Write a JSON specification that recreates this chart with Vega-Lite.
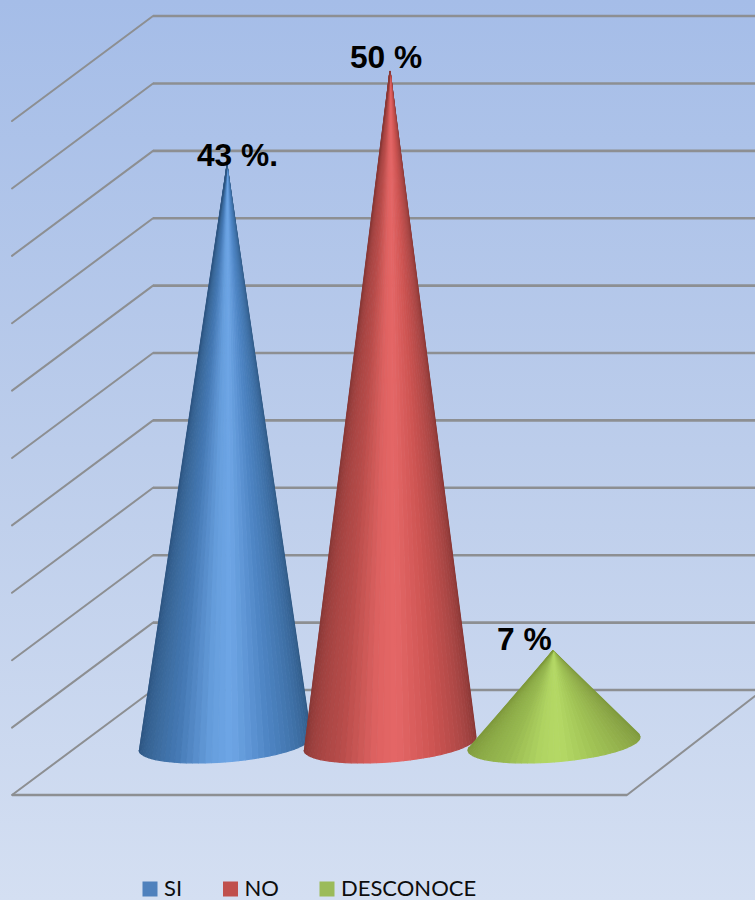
{
"$schema":"https://vega.github.io/schema/vega-lite/v6.json",
"width":755,"height":900,
"autosize":{"type":"none"},
"padding":0,
"background":"#d3dff2",
"config":{"view":{"stroke":null},"font":"Lato"},
"datasets":{
"resultados":[
{"categoria":"SI","valor":43,"vertice":227,"etiqueta":"43 %.","xEtiqueta":197,"yEtiqueta":42.95},
{"categoria":"NO","valor":50,"vertice":390,"etiqueta":"50 %","xEtiqueta":350,"yEtiqueta":50.22},
{"categoria":"DESCONOCE","valor":7,"vertice":553,"etiqueta":"7 %","xEtiqueta":497,"yEtiqueta":7.04}
],
"pared":[
{"xa":153,"ya":54.08,"xb":755,"yb":54.08},{"xa":153,"ya":49.08,"xb":755,"yb":49.08},{"xa":153,"ya":44.08,"xb":755,"yb":44.08},
{"xa":153,"ya":39.08,"xb":755,"yb":39.08},{"xa":153,"ya":34.08,"xb":755,"yb":34.08},{"xa":153,"ya":29.08,"xb":755,"yb":29.08},
{"xa":153,"ya":24.08,"xb":755,"yb":24.08},{"xa":153,"ya":19.08,"xb":755,"yb":19.08},{"xa":153,"ya":14.08,"xb":755,"yb":14.08},
{"xa":153,"ya":9.08,"xb":755,"yb":9.08},{"xa":153,"ya":4.08,"xb":755,"yb":4.08},{"xa":12,"ya":-3.71,"xb":627,"yb":-3.71}
],
"lateral":[
{"xa":153,"ya":54.08,"xb":12,"yb":46.29},{"xa":153,"ya":49.08,"xb":12,"yb":41.29},{"xa":153,"ya":44.08,"xb":12,"yb":36.29},
{"xa":153,"ya":39.08,"xb":12,"yb":31.29},{"xa":153,"ya":34.08,"xb":12,"yb":26.29},{"xa":153,"ya":29.08,"xb":12,"yb":21.29},
{"xa":153,"ya":24.08,"xb":12,"yb":16.29},{"xa":153,"ya":19.08,"xb":12,"yb":11.29},{"xa":153,"ya":14.08,"xb":12,"yb":6.29},
{"xa":153,"ya":9.08,"xb":12,"yb":1.29},{"xa":153,"ya":4.08,"xb":12,"yb":-3.71},{"xa":627,"ya":-3.71,"xb":755,"yb":3.63}
],
"conoSI":[
{"t":2.25,"x":[227,311,310.7],"y":[43,0.593,0.485]},{"t":6.75,"x":[227,310.7,310],"y":[43,0.485,0.374]},
{"t":11.25,"x":[227,310,308.6],"y":[43,0.374,0.262]},{"t":15.75,"x":[227,308.6,306.8],"y":[43,0.262,0.147]},
{"t":20.25,"x":[227,306.8,304.5],"y":[43,0.147,0.033]},{"t":24.75,"x":[227,304.5,301.6],"y":[43,0.033,-0.08]},
{"t":29.25,"x":[227,301.6,298.3],"y":[43,-0.08,-0.192]},{"t":33.75,"x":[227,298.3,294.6],"y":[43,-0.192,-0.302]},
{"t":38.25,"x":[227,294.6,290.4],"y":[43,-0.302,-0.409]},{"t":42.75,"x":[227,290.4,285.8],"y":[43,-0.409,-0.513]},
{"t":47.25,"x":[227,285.8,280.8],"y":[43,-0.513,-0.613]},{"t":51.75,"x":[227,280.8,275.6],"y":[43,-0.613,-0.71]},
{"t":56.25,"x":[227,275.6,270],"y":[43,-0.71,-0.801]},{"t":60.75,"x":[227,270,264],"y":[43,-0.801,-0.886]},
{"t":65.25,"x":[227,264,257.9],"y":[43,-0.886,-0.965]},{"t":69.75,"x":[227,257.9,251.6],"y":[43,-0.965,-1.038]},
{"t":74.25,"x":[227,251.6,245.1],"y":[43,-1.038,-1.104]},{"t":78.75,"x":[227,245.1,238.4],"y":[43,-1.104,-1.163]},
{"t":83.25,"x":[227,238.4,231.7],"y":[43,-1.163,-1.212]},{"t":87.75,"x":[227,231.7,225],"y":[43,-1.212,-1.254]},
{"t":92.25,"x":[227,225,218.3],"y":[43,-1.254,-1.288]},{"t":96.75,"x":[227,218.3,211.6],"y":[43,-1.288,-1.313]},
{"t":101.25,"x":[227,211.6,204.9],"y":[43,-1.313,-1.328]},{"t":105.75,"x":[227,204.9,198.4],"y":[43,-1.328,-1.336]},
{"t":110.25,"x":[227,198.4,192.1],"y":[43,-1.336,-1.335]},{"t":114.75,"x":[227,192.1,186],"y":[43,-1.335,-1.324]},
{"t":119.25,"x":[227,186,180],"y":[43,-1.324,-1.305]},{"t":123.75,"x":[227,180,174.4],"y":[43,-1.305,-1.276]},
{"t":128.25,"x":[227,174.4,169.2],"y":[43,-1.276,-1.239]},{"t":132.75,"x":[227,169.2,164.2],"y":[43,-1.239,-1.195]},
{"t":137.25,"x":[227,164.2,159.6],"y":[43,-1.195,-1.141]},{"t":141.75,"x":[227,159.6,155.4],"y":[43,-1.141,-1.082]},
{"t":146.25,"x":[227,155.4,151.7],"y":[43,-1.082,-1.014]},{"t":150.75,"x":[227,151.7,148.4],"y":[43,-1.014,-0.938]},
{"t":155.25,"x":[227,148.4,145.5],"y":[43,-0.938,-0.857]},{"t":159.75,"x":[227,145.5,143.2],"y":[43,-0.857,-0.769]},
{"t":164.25,"x":[227,143.2,141.4],"y":[43,-0.769,-0.676]},{"t":168.75,"x":[227,141.4,140],"y":[43,-0.676,-0.578]},
{"t":173.25,"x":[227,140,139.3],"y":[43,-0.578,-0.477]},{"t":177.75,"x":[227,139.3,139],"y":[43,-0.477,-0.371]}
],
"conoNO":[
{"t":2.25,"x":[390,476,475.7],"y":[50,0.593,0.485]},{"t":6.75,"x":[390,475.7,475],"y":[50,0.485,0.374]},
{"t":11.25,"x":[390,475,473.6],"y":[50,0.374,0.262]},{"t":15.75,"x":[390,473.6,471.8],"y":[50,0.262,0.147]},
{"t":20.25,"x":[390,471.8,469.5],"y":[50,0.147,0.033]},{"t":24.75,"x":[390,469.5,466.6],"y":[50,0.033,-0.08]},
{"t":29.25,"x":[390,466.6,463.3],"y":[50,-0.08,-0.192]},{"t":33.75,"x":[390,463.3,459.6],"y":[50,-0.192,-0.302]},
{"t":38.25,"x":[390,459.6,455.4],"y":[50,-0.302,-0.409]},{"t":42.75,"x":[390,455.4,450.8],"y":[50,-0.409,-0.513]},
{"t":47.25,"x":[390,450.8,445.8],"y":[50,-0.513,-0.613]},{"t":51.75,"x":[390,445.8,440.6],"y":[50,-0.613,-0.71]},
{"t":56.25,"x":[390,440.6,435],"y":[50,-0.71,-0.801]},{"t":60.75,"x":[390,435,429],"y":[50,-0.801,-0.886]},
{"t":65.25,"x":[390,429,422.9],"y":[50,-0.886,-0.965]},{"t":69.75,"x":[390,422.9,416.6],"y":[50,-0.965,-1.038]},
{"t":74.25,"x":[390,416.6,410.1],"y":[50,-1.038,-1.104]},{"t":78.75,"x":[390,410.1,403.4],"y":[50,-1.104,-1.163]},
{"t":83.25,"x":[390,403.4,396.7],"y":[50,-1.163,-1.212]},{"t":87.75,"x":[390,396.7,390],"y":[50,-1.212,-1.254]},
{"t":92.25,"x":[390,390,383.3],"y":[50,-1.254,-1.288]},{"t":96.75,"x":[390,383.3,376.6],"y":[50,-1.288,-1.313]},
{"t":101.25,"x":[390,376.6,369.9],"y":[50,-1.313,-1.328]},{"t":105.75,"x":[390,369.9,363.4],"y":[50,-1.328,-1.336]},
{"t":110.25,"x":[390,363.4,357.1],"y":[50,-1.336,-1.335]},{"t":114.75,"x":[390,357.1,351],"y":[50,-1.335,-1.324]},
{"t":119.25,"x":[390,351,345],"y":[50,-1.324,-1.305]},{"t":123.75,"x":[390,345,339.4],"y":[50,-1.305,-1.276]},
{"t":128.25,"x":[390,339.4,334.2],"y":[50,-1.276,-1.239]},{"t":132.75,"x":[390,334.2,329.2],"y":[50,-1.239,-1.195]},
{"t":137.25,"x":[390,329.2,324.6],"y":[50,-1.195,-1.141]},{"t":141.75,"x":[390,324.6,320.4],"y":[50,-1.141,-1.082]},
{"t":146.25,"x":[390,320.4,316.7],"y":[50,-1.082,-1.014]},{"t":150.75,"x":[390,316.7,313.4],"y":[50,-1.014,-0.938]},
{"t":155.25,"x":[390,313.4,310.5],"y":[50,-0.938,-0.857]},{"t":159.75,"x":[390,310.5,308.2],"y":[50,-0.857,-0.769]},
{"t":164.25,"x":[390,308.2,306.4],"y":[50,-0.769,-0.676]},{"t":168.75,"x":[390,306.4,305],"y":[50,-0.676,-0.578]},
{"t":173.25,"x":[390,305,304.3],"y":[50,-0.578,-0.477]},{"t":177.75,"x":[390,304.3,304],"y":[50,-0.477,-0.371]}
],
"conoDES":[
{"t":-2.25,"x":[553,639,640],"y":[7,0.8,0.593]},
{"t":2.25,"x":[553,640,639.7],"y":[7,0.593,0.485]},{"t":6.75,"x":[553,639.7,639],"y":[7,0.485,0.374]},
{"t":11.25,"x":[553,639,637.6],"y":[7,0.374,0.262]},{"t":15.75,"x":[553,637.6,635.8],"y":[7,0.262,0.147]},
{"t":20.25,"x":[553,635.8,633.5],"y":[7,0.147,0.033]},{"t":24.75,"x":[553,633.5,630.6],"y":[7,0.033,-0.08]},
{"t":29.25,"x":[553,630.6,627.3],"y":[7,-0.08,-0.192]},{"t":33.75,"x":[553,627.3,623.6],"y":[7,-0.192,-0.302]},
{"t":38.25,"x":[553,623.6,619.4],"y":[7,-0.302,-0.409]},{"t":42.75,"x":[553,619.4,614.8],"y":[7,-0.409,-0.513]},
{"t":47.25,"x":[553,614.8,609.8],"y":[7,-0.513,-0.613]},{"t":51.75,"x":[553,609.8,604.6],"y":[7,-0.613,-0.71]},
{"t":56.25,"x":[553,604.6,599],"y":[7,-0.71,-0.801]},{"t":60.75,"x":[553,599,593],"y":[7,-0.801,-0.886]},
{"t":65.25,"x":[553,593,586.9],"y":[7,-0.886,-0.965]},{"t":69.75,"x":[553,586.9,580.6],"y":[7,-0.965,-1.038]},
{"t":74.25,"x":[553,580.6,574.1],"y":[7,-1.038,-1.104]},{"t":78.75,"x":[553,574.1,567.4],"y":[7,-1.104,-1.163]},
{"t":83.25,"x":[553,567.4,560.7],"y":[7,-1.163,-1.212]},{"t":87.75,"x":[553,560.7,554],"y":[7,-1.212,-1.254]},
{"t":92.25,"x":[553,554,547.3],"y":[7,-1.254,-1.288]},{"t":96.75,"x":[553,547.3,540.6],"y":[7,-1.288,-1.313]},
{"t":101.25,"x":[553,540.6,533.9],"y":[7,-1.313,-1.328]},{"t":105.75,"x":[553,533.9,527.4],"y":[7,-1.328,-1.336]},
{"t":110.25,"x":[553,527.4,521.1],"y":[7,-1.336,-1.335]},{"t":114.75,"x":[553,521.1,515],"y":[7,-1.335,-1.324]},
{"t":119.25,"x":[553,515,509],"y":[7,-1.324,-1.305]},{"t":123.75,"x":[553,509,503.4],"y":[7,-1.305,-1.276]},
{"t":128.25,"x":[553,503.4,498.2],"y":[7,-1.276,-1.239]},{"t":132.75,"x":[553,498.2,493.2],"y":[7,-1.239,-1.195]},
{"t":137.25,"x":[553,493.2,488.6],"y":[7,-1.195,-1.141]},{"t":141.75,"x":[553,488.6,484.4],"y":[7,-1.141,-1.082]},
{"t":146.25,"x":[553,484.4,480.7],"y":[7,-1.082,-1.014]},{"t":150.75,"x":[553,480.7,477.4],"y":[7,-1.014,-0.938]},
{"t":155.25,"x":[553,477.4,474.5],"y":[7,-0.938,-0.857]},{"t":159.75,"x":[553,474.5,472.2],"y":[7,-0.857,-0.769]},
{"t":164.25,"x":[553,472.2,470.4],"y":[7,-0.769,-0.676]},{"t":168.75,"x":[553,470.4,469],"y":[7,-0.676,-0.578]},
{"t":173.25,"x":[553,469,468.3],"y":[7,-0.578,-0.477]},{"t":177.75,"x":[553,468.3,468],"y":[7,-0.477,-0.371]},
{"t":182.25,"x":[553,468,469],"y":[7,-0.371,-0.152]}
]
},
"layer":[
{"description":"Fondo degradado del grafico",
 "data":{"values":[{"x0":0,"x1":755,"y0":55.27,"y1":-11.5}]},
 "mark":{"type":"rect","fill":{"gradient":"linear","x1":0,"y1":0,"x2":0,"y2":1,"stops":[{"offset":0,"color":"#a5bde8"},{"offset":0.5,"color":"#bccdeb"},{"offset":1,"color":"#d4dff2"}]}},
 "encoding":{"x":{"field":"x0","type":"quantitative","scale":{"domain":[0,755],"nice":false,"zero":false},"axis":null},"x2":{"field":"x1"},
 "y":{"field":"y0","type":"quantitative","scale":{"domain":[-11.5,55.27],"nice":false,"zero":false},"axis":null},"y2":{"field":"y1"}}},
{"data":{"name":"pared"},
 "mark":{"type":"rule","stroke":"#8d8f92","strokeWidth":2.6},
 "encoding":{"x":{"field":"xa","type":"quantitative"},"x2":{"field":"xb"},"y":{"field":"ya","type":"quantitative"},"y2":{"field":"yb"}}},
{"data":{"name":"lateral"},
 "mark":{"type":"rule","stroke":"#8d8f92","strokeWidth":2,"strokeCap":"round"},
 "encoding":{"x":{"field":"xa","type":"quantitative"},"x2":{"field":"xb"},"y":{"field":"ya","type":"quantitative"},"y2":{"field":"yb"}}},
{"description":"Marcador de cada categoria, da origen a la leyenda",
 "data":{"name":"resultados"},
 "mark":{"type":"point","filled":true,"size":1,"opacity":1},
 "encoding":{"x":{"field":"vertice","type":"quantitative"},"y":{"field":"valor","type":"quantitative"},
 "fill":{"field":"categoria","type":"nominal","scale":{"domain":["SI","NO","DESCONOCE"],"range":["#4f81bd","#c0504d","#9bbb59"]},
 "legend":{"title":null,"orient":"none","legendX":139,"legendY":878,"direction":"horizontal","columns":3,"symbolType":"square","symbolSize":225,"symbolStrokeWidth":0,"symbolOpacity":1,"labelFont":"Lato","labelFontSize":22,"labelColor":"#0d0d0d","labelOffset":3,"columnPadding":36.5,"padding":0,"labelLimit":300}}}},
{"description":"Cono SI",
 "data":{"name":"conoSI"},"transform":[{"flatten":["x","y"]}],
 "mark":{"type":"line","filled":true,"strokeWidth":1.2,"strokeJoin":"round"},
 "encoding":{"x":{"field":"x","type":"quantitative"},"y":{"field":"y","type":"quantitative"},"detail":{"field":"t"},"order":{"value":null},
 "fill":{"field":"t","type":"quantitative","legend":null,"scale":{"domain":[0,30,60,86,100,125,150,180],"range":["#2f5782","#3d6ea3","#4e85c4","#6ea6e6","#669edd","#4478b3","#396799","#2c5480"]}},
 "stroke":{"field":"t","type":"quantitative","legend":null,"scale":{"domain":[0,30,60,86,100,125,150,180],"range":["#2f5782","#3d6ea3","#4e85c4","#6ea6e6","#669edd","#4478b3","#396799","#2c5480"]}}}},
{"description":"Cono NO",
 "data":{"name":"conoNO"},"transform":[{"flatten":["x","y"]}],
 "mark":{"type":"line","filled":true,"strokeWidth":1.2,"strokeJoin":"round"},
 "encoding":{"x":{"field":"x","type":"quantitative"},"y":{"field":"y","type":"quantitative"},"detail":{"field":"t"},"order":{"value":null},
 "fill":{"field":"t","type":"quantitative","legend":null,"scale":{"domain":[0,30,60,86,100,125,150,180],"range":["#843533","#a84644","#cd5452","#e56767","#de6261","#b84c4a","#a34341","#863735"]}},
 "stroke":{"field":"t","type":"quantitative","legend":null,"scale":{"domain":[0,30,60,86,100,125,150,180],"range":["#843533","#a84644","#cd5452","#e56767","#de6261","#b84c4a","#a34341","#863735"]}}}},
{"description":"Cono DESCONOCE",
 "data":{"name":"conoDES"},"transform":[{"flatten":["x","y"]}],
 "mark":{"type":"line","filled":true,"strokeWidth":1.2,"strokeJoin":"round"},
 "encoding":{"x":{"field":"x","type":"quantitative"},"y":{"field":"y","type":"quantitative"},"detail":{"field":"t"},"order":{"value":null},
 "fill":{"field":"t","type":"quantitative","legend":null,"scale":{"domain":[0,30,60,86,100,125,150,180],"range":["#7f9a3c","#8fab49","#a0c255","#b5d966","#b0d462","#98b950","#8cab47","#7f9a3c"]}},
 "stroke":{"field":"t","type":"quantitative","legend":null,"scale":{"domain":[0,30,60,86,100,125,150,180],"range":["#7f9a3c","#8fab49","#a0c255","#b5d966","#b0d462","#98b950","#8cab47","#7f9a3c"]}}}},
{"description":"Porcentajes sobre cada cono",
 "data":{"name":"resultados"},
 "mark":{"type":"text","font":"Liberation Sans","fontWeight":"bold","fontSize":31.7,"align":"left","baseline":"alphabetic","fill":"#000000"},
 "encoding":{"x":{"field":"xEtiqueta","type":"quantitative"},"y":{"field":"yEtiqueta","type":"quantitative"},"text":{"field":"etiqueta"}}}
],
"resolve":{"scale":{"fill":"independent","stroke":"independent"}}
}
